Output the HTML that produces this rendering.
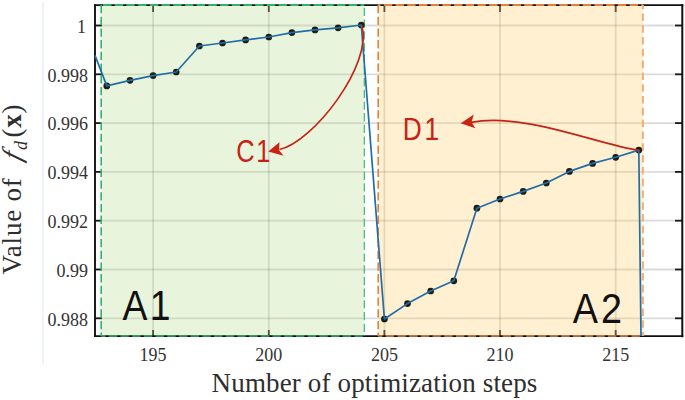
<!DOCTYPE html>
<html><head><meta charset="utf-8"><style>
html,body{margin:0;padding:0;background:#fff;width:685px;height:400px;overflow:hidden}
svg{display:block}
.serif{font-family:"Liberation Serif",serif}
.sans{font-family:"Liberation Sans",sans-serif}
</style></head><body>
<svg width="685" height="400" viewBox="0 0 685 400">
<rect x="0" y="0" width="685" height="400" fill="#fff"/>
<line x1="43" y1="2" x2="43" y2="364" stroke="#eef2fa" stroke-width="2"/>
<!-- grid -->
<g stroke="#262626" stroke-opacity="0.17" stroke-width="1.8">
<line x1="153.1" y1="5" x2="153.1" y2="336"/>
<line x1="268.8" y1="5" x2="268.8" y2="336"/>
<line x1="384.4" y1="5" x2="384.4" y2="336"/>
<line x1="500.0" y1="5" x2="500.0" y2="336"/>
<line x1="615.7" y1="5" x2="615.7" y2="336"/>
<line x1="95" y1="25.5" x2="682" y2="25.5"/>
<line x1="95" y1="74.3" x2="682" y2="74.3"/>
<line x1="95" y1="123.1" x2="682" y2="123.1"/>
<line x1="95" y1="171.9" x2="682" y2="171.9"/>
<line x1="95" y1="220.7" x2="682" y2="220.7"/>
<line x1="95" y1="269.5" x2="682" y2="269.5"/>
<line x1="95" y1="318.3" x2="682" y2="318.3"/>
</g>
<!-- ticks -->
<g stroke="#1a1a1a" stroke-width="1.8">
<line x1="153.1" y1="336" x2="153.1" y2="330"/>
<line x1="153.1" y1="5" x2="153.1" y2="12"/>
<line x1="268.8" y1="336" x2="268.8" y2="330"/>
<line x1="268.8" y1="5" x2="268.8" y2="12"/>
<line x1="384.4" y1="336" x2="384.4" y2="330"/>
<line x1="384.4" y1="5" x2="384.4" y2="12"/>
<line x1="500.0" y1="336" x2="500.0" y2="330"/>
<line x1="500.0" y1="5" x2="500.0" y2="12"/>
<line x1="615.7" y1="336" x2="615.7" y2="330"/>
<line x1="615.7" y1="5" x2="615.7" y2="12"/>
<line x1="95" y1="25.5" x2="102" y2="25.5"/>
<line x1="682" y1="25.5" x2="675" y2="25.5"/>
<line x1="95" y1="74.3" x2="102" y2="74.3"/>
<line x1="682" y1="74.3" x2="675" y2="74.3"/>
<line x1="95" y1="123.1" x2="102" y2="123.1"/>
<line x1="682" y1="123.1" x2="675" y2="123.1"/>
<line x1="95" y1="171.9" x2="102" y2="171.9"/>
<line x1="682" y1="171.9" x2="675" y2="171.9"/>
<line x1="95" y1="220.7" x2="102" y2="220.7"/>
<line x1="682" y1="220.7" x2="675" y2="220.7"/>
<line x1="95" y1="269.5" x2="102" y2="269.5"/>
<line x1="682" y1="269.5" x2="675" y2="269.5"/>
<line x1="95" y1="318.3" x2="102" y2="318.3"/>
<line x1="682" y1="318.3" x2="675" y2="318.3"/>
</g>
<!-- shaded regions (semi-transparent, over grid & ticks) -->
<rect x="101.5" y="5" width="262.2" height="331" fill="#b2de8a" fill-opacity="0.3"/>
<rect x="379" y="5" width="263.5" height="331" fill="#fccd62" fill-opacity="0.3"/>
<!-- axes frame -->
<g stroke="#111" fill="none">
<line x1="95" y1="4.2" x2="95" y2="337" stroke-width="1.9"/>
<line x1="682.3" y1="4.2" x2="682.3" y2="337.2" stroke-width="2"/>
<line x1="94" y1="5.2" x2="683.3" y2="5.2" stroke-width="1.8"/>
<line x1="94" y1="336.1" x2="683.3" y2="336.1" stroke-width="1.6"/>
</g>
<!-- dashed borders -->
<g stroke-dasharray="8.3 3.4" fill="none">
<line x1="101.2" y1="5" x2="101.2" y2="336" stroke-dashoffset="0" stroke="#2fb56a" stroke-width="1.6"/>
<line x1="101.2" y1="5" x2="364.2" y2="5" stroke-dashoffset="9.8" stroke="#2fb56a" stroke-width="1.8"/>
<line x1="364.3" y1="5" x2="364.3" y2="336" stroke-dashoffset="8.9" stroke="#3cb474" stroke-width="1.2"/>
<line x1="101.2" y1="336" x2="364.2" y2="336" stroke-dashoffset="4.1" stroke="#2fb56a" stroke-width="1.6"/>
<line x1="378.2" y1="5" x2="378.2" y2="336" stroke-dashoffset="0" stroke="#e8803c" stroke-width="1.6"/>
<line x1="378.2" y1="5" x2="642.8" y2="5" stroke-dashoffset="6.0" stroke="#e8803c" stroke-width="1.8"/>
<line x1="642.9" y1="5" x2="642.9" y2="336" stroke-dashoffset="3.4" stroke="#f2ae7a" stroke-width="2" stroke-dasharray="7.6 4.2"/>
<line x1="378.2" y1="336" x2="642.8" y2="336" stroke-dashoffset="4.1" stroke="#e8803c" stroke-width="1.6"/>
</g>
<!-- data -->
<g fill="#1d1d14">
<circle cx="106.8" cy="85.9" r="3.35"/>
<circle cx="130.0" cy="80.3" r="3.35"/>
<circle cx="153.1" cy="75.6" r="3.35"/>
<circle cx="176.2" cy="72.0" r="3.35"/>
<circle cx="199.4" cy="46.0" r="3.35"/>
<circle cx="222.5" cy="43.0" r="3.35"/>
<circle cx="245.6" cy="39.9" r="3.35"/>
<circle cx="268.8" cy="37.0" r="3.35"/>
<circle cx="291.9" cy="32.6" r="3.35"/>
<circle cx="315.0" cy="29.9" r="3.35"/>
<circle cx="338.1" cy="27.8" r="3.35"/>
<circle cx="361.3" cy="25.0" r="3.35"/>
<circle cx="384.4" cy="319.0" r="3.35"/>
<circle cx="407.5" cy="303.6" r="3.35"/>
<circle cx="430.7" cy="291.0" r="3.35"/>
<circle cx="453.8" cy="280.8" r="3.35"/>
<circle cx="476.9" cy="208.2" r="3.35"/>
<circle cx="500.0" cy="199.0" r="3.35"/>
<circle cx="523.2" cy="191.4" r="3.35"/>
<circle cx="546.3" cy="183.0" r="3.35"/>
<circle cx="569.4" cy="171.4" r="3.35"/>
<circle cx="592.6" cy="163.4" r="3.35"/>
<circle cx="615.7" cy="157.3" r="3.35"/>
<circle cx="638.8" cy="150.1" r="3.35"/>
</g>
<polyline points="95.0,55.4 106.8,85.9 130.0,80.3 153.1,75.6 176.2,72.0 199.4,46.0 222.5,43.0 245.6,39.9 268.8,37.0 291.9,32.6 315.0,29.9 338.1,27.8 361.3,25.0 384.4,319.0 407.5,303.6 430.7,291.0 453.8,280.8 476.9,208.2 500.0,199.0 523.2,191.4 546.3,183.0 569.4,171.4 592.6,163.4 615.7,157.3 638.8,150.1 641.0,336.0" fill="none" stroke="#236da6" stroke-width="1.7" stroke-linejoin="round"/>
<!-- annotations -->
<path d="M361.8 25.5 C373.4 63.9 313.3 142.1 279.5 149.5" fill="none" stroke="#c22418" stroke-width="1.7"/>
<path d="M268.2 151.6 L279.5 142.3 L279 150 L283.5 155.8 Z" fill="#cc2414"/>
<path d="M638.5 150.3 C598.1 144.6 525 112.4 471 122.3" fill="none" stroke="#c22418" stroke-width="1.7"/>
<path d="M460.7 123.3 L473.8 114.4 L471.5 122 L475.3 128.3 Z" fill="#cc2414"/>
<g class="sans" fill="#c62216" font-size="31">
<text transform="translate(236.2,161.7) scale(0.82,1)" letter-spacing="2">C1</text>
<text transform="translate(402.8,140) scale(0.85,1)" letter-spacing="3.3">D1</text>
</g>
<g class="sans" fill="#111" font-size="43.4">
<text transform="translate(122.4,320.4) scale(0.86,1)" letter-spacing="2.8">A1</text>
<text transform="translate(572.8,323.3) scale(0.87,1)" letter-spacing="3.5">A2</text>
</g>
<!-- tick labels -->
<g class="serif" fill="#333" font-size="18">
<text x="153.1" y="360.5" text-anchor="middle">195</text>
<text x="268.8" y="360.5" text-anchor="middle">200</text>
<text x="384.4" y="360.5" text-anchor="middle">205</text>
<text x="500.0" y="360.5" text-anchor="middle">210</text>
<text x="615.7" y="360.5" text-anchor="middle">215</text>
<text x="86" y="32.7" text-anchor="end">1</text>
<text x="88" y="81.5" text-anchor="end">0.998</text>
<text x="88" y="130.3" text-anchor="end">0.996</text>
<text x="88" y="179.1" text-anchor="end">0.994</text>
<text x="88" y="227.9" text-anchor="end">0.992</text>
<text x="88" y="276.7" text-anchor="end">0.99</text>
<text x="88" y="325.5" text-anchor="end">0.988</text>
</g>
<text class="serif" x="211.6" y="391.5" font-size="27" letter-spacing="0.15" fill="#2e2e2e">Number of optimization steps</text>
<g transform="translate(20.6,274.5) rotate(-90)" class="serif" fill="#2e2e2e">
<text x="0" y="0" font-size="27" letter-spacing="0.8">Value of</text>
<text transform="translate(112.5,0) skewX(-17)" font-size="27" font-style="italic">f</text>
<text x="124.5" y="6.5" font-size="18" font-style="italic">d</text>
<text x="137" y="0" font-size="27" letter-spacing="0.8">(<tspan font-weight="bold">x</tspan>)</text>
</g>
</svg>
</body></html>
